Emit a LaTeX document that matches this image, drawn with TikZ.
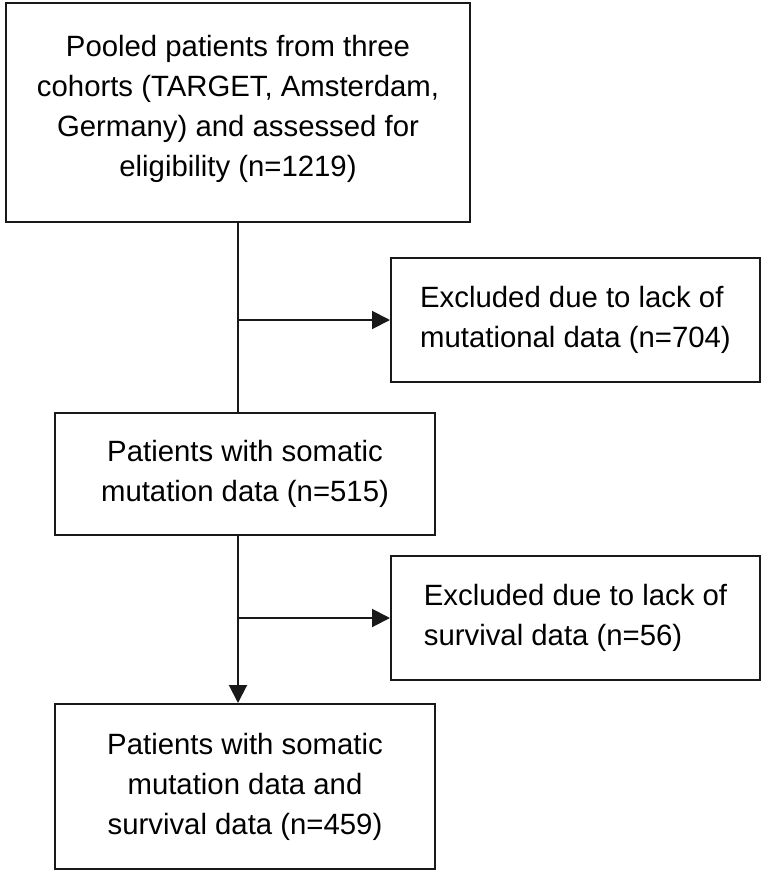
\documentclass[tikz,border=0pt]{standalone}
\usepackage{fontspec}
\setmainfont{Liberation Sans}
\usepackage{tikz}
\usetikzlibrary{arrows.meta}

\begin{document}
\begin{tikzpicture}[
    x=0.75pt, y=-0.75pt,
    box/.style={draw=black!90, line width=1.5pt, align=center, inner sep=0pt, font=\fontsize{22}{30}\selectfont},
    exbox/.style={box, align=left, minimum width=276.75pt, minimum height=93pt},
    line/.style={draw=black!90, line width=1.5pt},
    arrow/.style={line, -{Triangle[length=13.5pt, width=13.5pt]}}
]

\useasboundingbox (0,0) rectangle (762,871);

% ========== MAIN COLUMN ==========
% Pooled cohorts
\node[box, minimum width=348pt, minimum height=164pt, text depth=10pt] (pool) at (238,112.5) {Pooled patients from three\\cohorts (TARGET, Amsterdam,\\Germany) and assessed for\\eligibility (n=1219)};

% With mutation data
\node[box, minimum width=285pt, minimum height=91.5pt] (mut) at (245,474) {Patients with somatic\\mutation data (n=515)};

% Final cohort
\node[box, minimum width=285pt, minimum height=123.75pt] (final) at (245,786.5) {Patients with somatic\\mutation data and\\survival data (n=459)};

% ========== EXCLUSIONS ==========
\node[exbox] (excl1) at (575.5,320) {Excluded due to lack of\\mutational data (n=704)};
\node[exbox] (excl2) at (575.5,618) {Excluded due to lack of\\survival data (n=56)};

% Connectors
\draw[line] (pool.south) -- (pool.south |- mut.north);
\draw[arrow] (pool.south |- excl1.west) -- (excl1.west);
\draw[arrow] (pool.south |- mut.south) -- (pool.south |- final.north);
\draw[arrow] (pool.south |- excl2.west) -- (excl2.west);

\end{tikzpicture}
\end{document}
